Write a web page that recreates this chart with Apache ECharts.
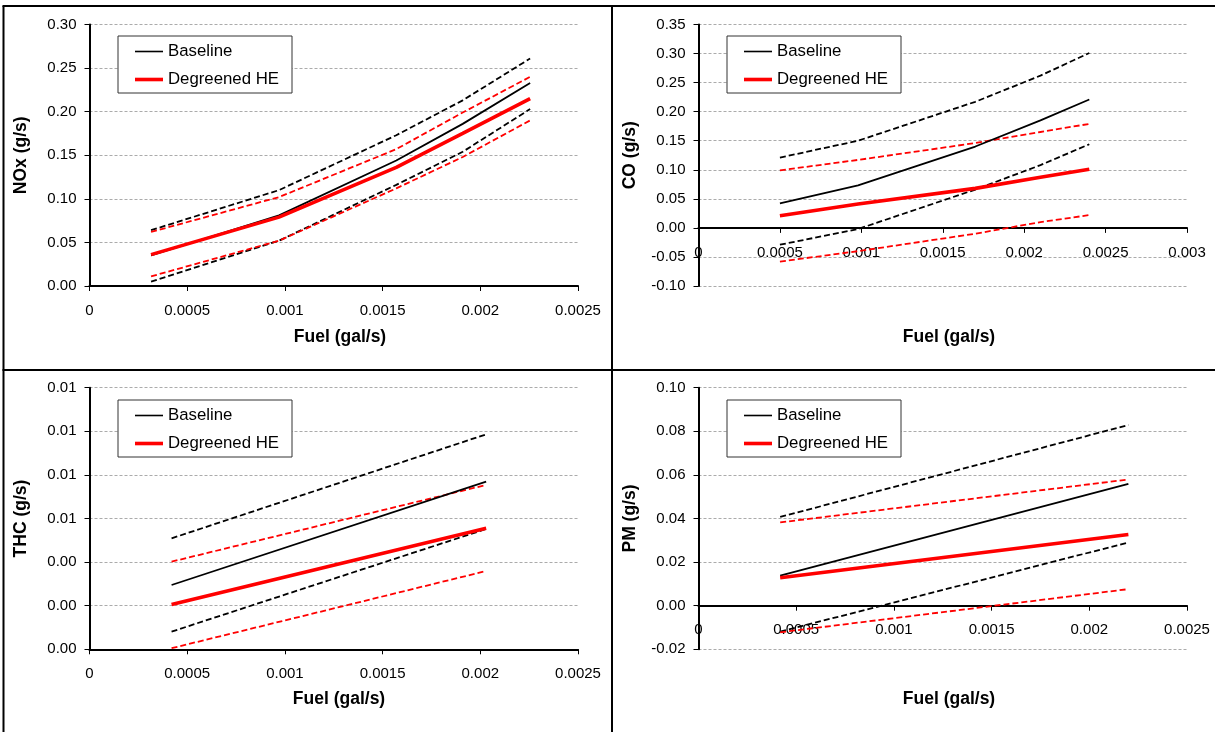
<!DOCTYPE html>
<html>
<head>
<meta charset="utf-8">
<script src="https://cdn.jsdelivr.net/npm/echarts@6/dist/echarts.min.js"></script>
<style>
  html, body { margin: 0; padding: 0; background: #fff; }
  #chart { width: 1215px; height: 732px; }
</style>
</head>
<body>
<div id="chart"></div>
<script>
// ---- NOx panel: fuel flow (gal/s) and emission rate (g/s) with confidence bands
const noxFuel    = [0.000315, 0.00097, 0.00157, 0.00191, 0.002255];
const noxBase    = [0.035, 0.081, 0.144, 0.186, 0.233];
const noxBaseHi  = [0.064, 0.110, 0.173, 0.213, 0.261];
const noxBaseLo  = [0.005, 0.052, 0.116, 0.154, 0.203];
const noxDeg     = [0.036, 0.079, 0.136, 0.175, 0.215];
const noxDegHi   = [0.062, 0.102, 0.157, 0.199, 0.240];
const noxDegLo   = [0.011, 0.052, 0.112, 0.148, 0.190];

// ---- CO panel
const coFuel     = [0.0005, 0.00098, 0.0017, 0.0021, 0.0024];
const coBase     = [0.042, 0.073, 0.140, 0.185, 0.221];
const coBaseHi   = [0.121, 0.150, 0.217, 0.262, 0.301];
const coBaseLo   = [-0.029, -0.002, 0.066, 0.108, 0.144];
const coDeg      = [0.021, 0.041, 0.068, 0.087, 0.101];
const coDegHi    = [0.099, 0.117, 0.146, 0.165, 0.179];
const coDegLo    = [-0.058, -0.040, -0.010, 0.010, 0.022];

// ---- THC panel
const thcFuel    = [0.00042, 0.00203];
const thcBase    = [0.00295, 0.00769];
const thcBaseHi  = [0.00509, 0.00986];
const thcBaseLo  = [0.00081, 0.00552];
const thcDeg     = [0.00206, 0.00555];
const thcDegHi   = [0.00402, 0.00754];
const thcDegLo   = [0.00005, 0.00359];

// ---- PM panel
const pmFuel     = [0.000418, 0.0022];
const pmBase     = [0.0138, 0.0559];
const pmBaseHi   = [0.0407, 0.0829];
const pmBaseLo   = [-0.0119, 0.0290];
const pmDeg      = [0.0128, 0.0327];
const pmDegHi    = [0.0382, 0.0579];
const pmDegLo    = [-0.0122, 0.0076];

// ---- axis settings per panel
const yTitles  = ['NOx (g/s)', 'CO (g/s)', 'THC (g/s)', 'PM (g/s)'];
const xTitle   = 'Fuel (gal/s)';
const yMin     = [0, -0.10, 0, -0.02];
const yMax     = [0.30, 0.35, 0.012, 0.10];
const yStep    = [0.05, 0.05, 0.002, 0.02];
const xMax     = [0.0025, 0.003, 0.0025, 0.0025];
const xStep    = 0.0005;
const legendNames = ['Baseline', 'Degreened HE'];

const FONT = 'Liberation Sans, Arial, Helvetica, sans-serif';

const panels = [
  { fuel: noxFuel, base: noxBase, baseHi: noxBaseHi, baseLo: noxBaseLo, deg: noxDeg, degHi: noxDegHi, degLo: noxDegLo },
  { fuel: coFuel,  base: coBase,  baseHi: coBaseHi,  baseLo: coBaseLo,  deg: coDeg,  degHi: coDegHi,  degLo: coDegLo },
  { fuel: thcFuel, base: thcBase, baseHi: thcBaseHi, baseLo: thcBaseLo, deg: thcDeg, degHi: thcDegHi, degLo: thcDegLo },
  { fuel: pmFuel,  base: pmBase,  baseHi: pmBaseHi,  baseLo: pmBaseLo,  deg: pmDeg,  degHi: pmDegHi,  degLo: pmDegLo }
];

// plot-area rectangles (left, top, width, height)
const grids = [
  { left: 89.5,  top: 24.5,  width: 488.5, height: 261.5 },
  { left: 698.5, top: 24.5,  width: 488.5, height: 261.5 },
  { left: 89.5,  top: 387.7, width: 488.5, height: 261.6 },
  { left: 698.5, top: 387.7, width: 488.5, height: 261.6 }
];
const legendPos = [
  { left: 118, top: 36 },
  { left: 727, top: 36 },
  { left: 118, top: 400 },
  { left: 727, top: 400 }
];
const xTitlePos = [
  { x: 340, y: 337 },
  { x: 949, y: 337 },
  { x: 339, y: 699 },
  { x: 949, y: 699 }
];

const zip = (xs, ys) => xs.map((x, i) => [x, ys[i]]);

const fmtX = v => (v === 0 ? '0' : String(+v.toFixed(4)));

// legend keys drawn as plain line strokes of the series' thickness
const legendData = [
  { name: legendNames[0], icon: 'path://M0,0L28,0L28,1.6L0,1.6Z' },
  { name: legendNames[1], icon: 'path://M0,0L28,0L28,3.6L0,3.6Z' }
];

const LABEL_GAP = 17;

const xAxes = [], yAxes = [], series = [], legends = [], graphics = [];

panels.forEach((p, i) => {
  // the x axis crosses at y = 0; its labels sit just under that line
  const zeroOffset = grids[i].height * (0 - yMin[i]) / (yMax[i] - yMin[i]);
  xAxes.push({
    type: 'value', gridIndex: i, min: 0, max: xMax[i], interval: xStep,
    axisLine: { onZero: true, lineStyle: { color: '#000', width: 2 } },
    axisTick: { show: true, inside: false, length: 5, lineStyle: { color: '#000', width: 1 } },
    axisLabel: { color: '#000', fontSize: 15, fontFamily: FONT, margin: LABEL_GAP - zeroOffset,
                 formatter: fmtX, showMinLabel: true, showMaxLabel: true },
    splitLine: { show: false }
  });
  yAxes.push({
    type: 'value', gridIndex: i, min: yMin[i], max: yMax[i], interval: yStep[i],
    name: yTitles[i], nameLocation: 'middle', nameGap: 59, nameRotate: 90,
    nameTextStyle: { color: '#000', fontSize: 17.5, fontWeight: 'bold', fontFamily: FONT },
    axisLine: { show: true, onZero: false, lineStyle: { color: '#000', width: 2 } },
    axisTick: { show: true, inside: false, length: 5, lineStyle: { color: '#000', width: 1 } },
    axisLabel: { color: '#000', fontSize: 15, fontFamily: FONT, margin: 13, formatter: v => v.toFixed(2) },
    splitLine: { show: true, lineStyle: { color: '#ababab', width: 1, type: [3, 2] } }
  });

  const common = { type: 'line', xAxisIndex: i, yAxisIndex: i, symbol: 'none', silent: true, z: 3 };
  const dashed = (name, ys, color) => Object.assign({}, common, {
    name, data: zip(p.fuel, ys), lineStyle: { color, width: 1.8, type: [6, 3] }, itemStyle: { color }
  });
  series.push(dashed('Baseline upper', p.baseHi, '#000'));
  series.push(dashed('Baseline lower', p.baseLo, '#000'));
  series.push(dashed('Degreened HE upper', p.degHi, '#ff0000'));
  series.push(dashed('Degreened HE lower', p.degLo, '#ff0000'));
  series.push(Object.assign({}, common, {
    name: 'Baseline', data: zip(p.fuel, p.base),
    lineStyle: { color: '#000', width: 1.8 }, itemStyle: { color: '#000' }, z: 4
  }));
  series.push(Object.assign({}, common, {
    name: 'Degreened HE', data: zip(p.fuel, p.deg),
    lineStyle: { color: '#ff0000', width: 3.6 }, itemStyle: { color: '#ff0000' }, z: 5
  }));

  legends.push({
    data: legendData, orient: 'vertical', left: legendPos[i].left, top: legendPos[i].top,
    itemWidth: 28, itemHeight: 14, itemGap: 11, padding: [7, 13, 5, 17],
    backgroundColor: '#fff', borderColor: '#333', borderWidth: 1, borderRadius: 0,
    selectedMode: false, z: 10,
    textStyle: { color: '#000', fontSize: 16.8, fontFamily: FONT, lineHeight: 16 }
  });

  graphics.push({
    type: 'text', x: xTitlePos[i].x, y: xTitlePos[i].y, silent: true,
    style: { text: xTitle, fill: '#000', font: 'bold 17.5px ' + FONT, textAlign: 'center', textVerticalAlign: 'middle' }
  });
});

// panel frame: outer left/top edges and the two dividers
const frame = (x1, y1, x2, y2) => ({
  type: 'line', silent: true, z: 100,
  shape: { x1, y1, x2, y2 }, style: { stroke: '#000', lineWidth: 2 }
});
graphics.push(frame(3.5, 6, 3.5, 732));
graphics.push(frame(2.5, 6, 1215, 6));
graphics.push(frame(612, 6, 612, 732));
graphics.push(frame(2.5, 370, 1215, 370));

const chart = echarts.init(document.getElementById('chart'), null, { renderer: 'canvas' });
chart.setOption({
  animation: false,
  backgroundColor: '#fff',
  grid: grids.map(g => Object.assign({ containLabel: false }, g)),
  xAxis: xAxes,
  yAxis: yAxes,
  legend: legends,
  series: series,
  graphic: graphics
});
</script>
</body>
</html>
